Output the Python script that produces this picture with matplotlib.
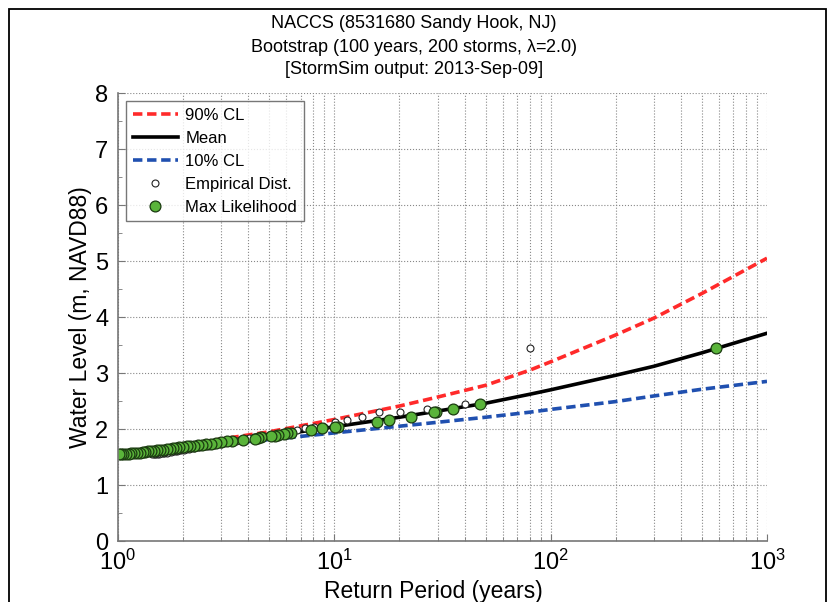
import matplotlib
matplotlib.use("Agg")
import matplotlib.pyplot as plt
from matplotlib.patches import Rectangle
from matplotlib.ticker import LogLocator, FixedLocator, NullFormatter

plt.rcParams['font.family'] = ['Liberation Sans', 'DejaVu Sans']
plt.rcParams['mathtext.default'] = 'regular'

# confidence curves (return period in years, water level in m)
periodo_curva = [1, 2, 3, 5, 10, 20, 30, 50, 80, 100, 200, 300, 500, 1000]
media = [1.55, 1.69, 1.77, 1.87, 2.04, 2.21, 2.32, 2.46, 2.62, 2.70, 2.96, 3.12, 3.36, 3.71]
cl_90 = [1.55, 1.72, 1.82, 1.95, 2.17, 2.41, 2.57, 2.78, 3.05, 3.20, 3.68, 3.98, 4.42, 5.05]
cl_10 = [1.55, 1.67, 1.73, 1.81, 1.93, 2.05, 2.12, 2.21, 2.30, 2.35, 2.49, 2.59, 2.71, 2.85]

# storm levels (sorted), with empirical and max likelihood return periods
nivel = [3.44, 2.45, 2.35, 2.31, 2.30, 2.22, 2.16, 2.13, 2.04, 2.03, 2.01, 1.98, 1.93, 1.92,
         1.91, 1.89, 1.88, 1.87, 1.85, 1.84, 1.83, 1.81, 1.79, 1.78, 1.76, 1.75, 1.74, 1.73,
         1.72, 1.71, 1.70, 1.69, 1.69, 1.68, 1.67, 1.66, 1.66, 1.65, 1.64, 1.63, 1.63, 1.62,
         1.61, 1.61, 1.60, 1.59, 1.59, 1.58, 1.58, 1.57, 1.57, 1.56, 1.56, 1.55, 1.55, 1.55]
t_empirico = [80.5, 40.3, 26.8, 20.1, 16.1, 13.4, 11.5, 10.1, 8.94, 8.05, 7.32, 6.71, 6.19, 5.75,
              5.37, 5.03, 4.74, 4.47, 4.24, 4.03, 3.83, 3.66, 3.50, 3.35, 3.22, 3.10, 2.98, 2.88,
              2.78, 2.68, 2.60, 2.52, 2.44, 2.37, 2.30, 2.24, 2.18, 2.12, 2.06, 2.01, 1.96, 1.92,
              1.87, 1.83, 1.79, 1.75, 1.71, 1.68, 1.64, 1.61, 1.58, 1.55, 1.52, 1.49, 1.46, 1.44]
t_maxlik = [580, 47.2, 35.3, 29.6, 28.9, 22.7, 17.8, 15.7, 10.4, 10.1, 8.8, 7.8, 6.3, 6.06,
            5.85, 5.49, 5.30, 5.08, 4.60, 4.43, 4.28, 3.78, 3.37, 3.20, 3.00, 2.85, 2.70, 2.55,
            2.45, 2.35, 2.25, 2.15, 2.08, 2.00, 1.92, 1.85, 1.80, 1.74, 1.68, 1.62, 1.57, 1.52,
            1.47, 1.42, 1.38, 1.34, 1.30, 1.26, 1.22, 1.18, 1.15, 1.12, 1.09, 1.06, 1.03, 1.01]

W, H = 835, 602
fig = plt.figure(figsize=(W / 100, H / 100), dpi=100)
ax = fig.add_axes([118 / W, 1 - 541 / H, (767 - 118) / W, (541 - 93) / H])

# marco negro de la figura
fig.patches.append(Rectangle((9 / W, -0.1), (826 - 9) / W, 1.1 - 9 / H,
                             transform=fig.transFigure, fill=False, lw=1.3,
                             edgecolor='black', zorder=0))

ax.plot(periodo_curva, cl_90, color='#ff2a2a', lw=2.6, ls=(0, (2.6, 1.3)), label='90% CL')
ax.plot(periodo_curva, media, color='black', lw=2.6, label='Mean')
ax.plot(periodo_curva, cl_10, color='#2050b0', lw=2.6, ls=(0, (2.6, 1.3)), label='10% CL')
ax.plot(t_empirico, nivel, ls='none', marker='o', ms=5, mfc='white', mec='#222222',
        mew=0.8, label='Empirical Dist.')
ax.plot(t_maxlik, nivel, ls='none', marker='o', ms=7.8, mfc='#5ab43a', mec='#1a3a10',
        mew=0.9, label='Max Likelihood')

ax.set_xscale('log')
ax.set_xlim(1, 1000)
ax.set_ylim(0, 8)
ax.xaxis.set_major_locator(LogLocator(base=10))
ax.xaxis.set_minor_locator(LogLocator(base=10, subs=range(2, 10)))
ax.xaxis.set_minor_formatter(NullFormatter())
ax.set_xticks([1, 10, 100, 1000])
ax.set_xticklabels(['$10^{0}$', '$10^{1}$', '$10^{2}$', '$10^{3}$'])
ax.set_yticks(range(0, 9))
ax.yaxis.set_minor_locator(FixedLocator([0.5 + i for i in range(8)]))

ax.grid(True, which='major', ls=':', color='#888888', lw=0.8)
ax.grid(True, which='minor', axis='x', ls=':', color='#888888', lw=0.8)
ax.tick_params(which='both', direction='in', labelsize=17, colors='#777777',
               labelcolor='black')
ax.tick_params(axis='y', pad=7)
ax.tick_params(axis='x', pad=6)
ax.tick_params(which='major', length=5)
ax.tick_params(which='minor', length=3)
for s in ['top', 'right']:
    ax.spines[s].set_visible(False)
for s in ['left', 'bottom']:
    ax.spines[s].set_color('#777777')
    ax.spines[s].set_linewidth(1.2)

ax.set_xlabel('Return Period (years)', fontsize=16.5)
ax.set_ylabel('Water Level (m, NAVD88)', fontsize=16.5)
ax.xaxis.set_label_coords((433 - 118) / 649, -0.088)
ax.yaxis.set_label_coords(-0.04, 0.5)

leg = ax.legend(loc='upper left', fontsize=12, frameon=True, fancybox=False,
                edgecolor='#555555', handlelength=2.7, borderpad=0.4,
                labelspacing=0.48, handletextpad=0.45, borderaxespad=0,
                bbox_to_anchor=(8 / 649, 1 - 8 / 448))
leg.get_frame().set_linewidth(1.0)

fig.text(414 / W, 1 - 24 / H, 'NACCS (8531680 Sandy Hook, NJ)', ha='center', va='center', fontsize=13)
fig.text(414 / W, 1 - 47 / H, 'Bootstrap (100 years, 200 storms, $\\lambda$=2.0)', ha='center',
         va='center', fontsize=13)
fig.text(414 / W, 1 - 70 / H, '[StormSim output: 2013-Sep-09]', ha='center', va='center', fontsize=13)

fig.savefig('out.png', dpi=100)
